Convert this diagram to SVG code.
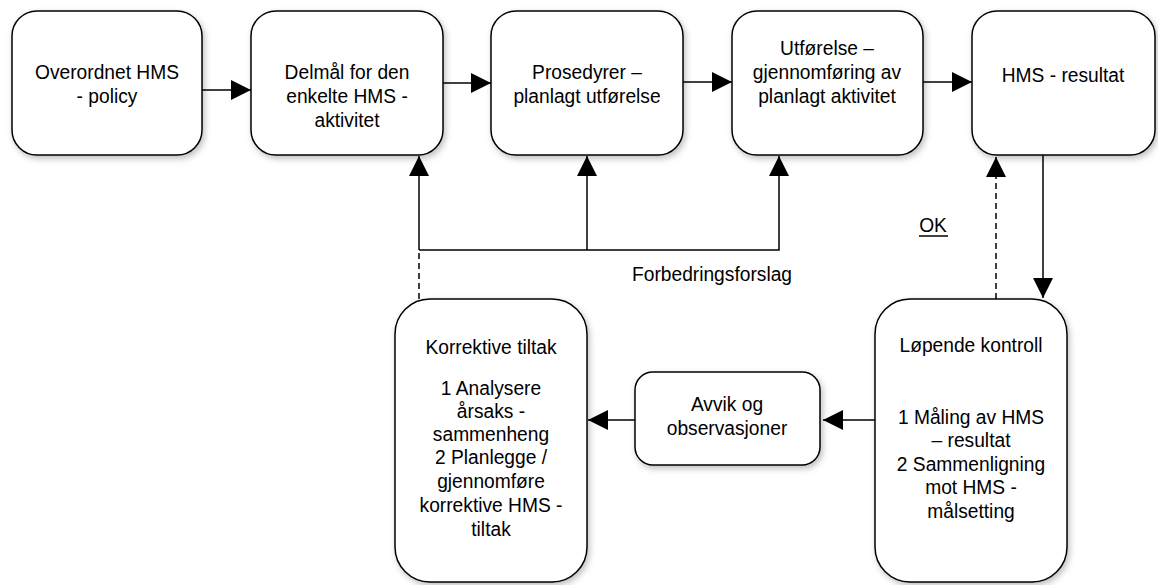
<svg xmlns="http://www.w3.org/2000/svg" width="1158" height="585" viewBox="0 0 1158 585">
  <style>
    .box { fill: #ffffff; stroke: #000000; stroke-width: 1.5; filter: url(#shadow); }
    .lbl { font-family: "Liberation Sans", Arial, sans-serif; font-size: 20px; fill: #000000; text-anchor: middle; }
    .wire { fill: none; stroke: #000000; stroke-width: 1.5; }
    .dash { stroke-dasharray: 6 4; }
  </style>
  <defs>
    <filter id="shadow" x="-10%" y="-10%" width="130%" height="130%">
      <feDropShadow dx="2" dy="3" stdDeviation="3" flood-color="#000000" flood-opacity="0.25"/>
    </filter>
    <marker id="arrow" viewBox="0 0 20 20" refX="20" refY="10" markerWidth="20" markerHeight="20" markerUnits="userSpaceOnUse" orient="auto">
      <path d="M0,0 L20,10 L0,20 Z" fill="#000000"/>
    </marker>
  </defs>

  <rect width="1158" height="585" fill="#ffffff"/>

  <!-- connectors -->
  <g id="connectors">
    <path class="wire" d="M202,90 H251" marker-end="url(#arrow)"/>
    <path class="wire" d="M443,83 H491" marker-end="url(#arrow)"/>
    <path class="wire" d="M683,82 H732" marker-end="url(#arrow)"/>
    <path class="wire" d="M923,82 H972" marker-end="url(#arrow)"/>
    <path class="wire" d="M1043,155 V298" marker-end="url(#arrow)"/>
    <path class="wire dash" d="M996,299 V157" marker-end="url(#arrow)"/>
    <path class="wire" d="M875,420 H823" marker-end="url(#arrow)"/>
    <path class="wire" d="M635,420 H588" marker-end="url(#arrow)"/>
    <!-- improvement feedback loop -->
    <path class="wire dash" d="M419,299 V250"/>
    <path class="wire" d="M419,250 V156" marker-end="url(#arrow)"/>
    <path class="wire" d="M419,250 H779 V156" marker-end="url(#arrow)"/>
    <path class="wire" d="M587,250 V156" marker-end="url(#arrow)"/>
    <g transform="translate(712 0) scale(0.96 1)">
      <text class="lbl" x="0" y="281">Forbedringsforslag</text>
    </g>
    <g transform="translate(933 0) scale(0.96 1)">
      <text class="lbl" x="0" y="232">OK</text>
    </g>
    <line x1="919" y1="236" x2="948" y2="236" stroke="#000000" stroke-width="1.5"/>
  </g>

  <g id="policy">
    <rect class="box" x="12" y="11" width="190" height="144" rx="25"/>
    <g transform="translate(107 0) scale(0.96 1)">
      <text class="lbl" x="0" y="79">Overordnet HMS</text>
      <text class="lbl" x="0" y="103">- policy</text>
    </g>
  </g>

  <g id="delmal">
    <rect class="box" x="251" y="11" width="192" height="144" rx="25"/>
    <g transform="translate(347 0) scale(0.96 1)">
      <text class="lbl" x="0" y="79">Delmål for den</text>
      <text class="lbl" x="0" y="103">enkelte HMS -</text>
      <text class="lbl" x="0" y="127">aktivitet</text>
    </g>
  </g>

  <g id="prosedyrer">
    <rect class="box" x="491" y="11" width="192" height="144" rx="25"/>
    <g transform="translate(587 0) scale(0.96 1)">
      <text class="lbl" x="0" y="79">Prosedyrer –</text>
      <text class="lbl" x="0" y="103">planlagt utførelse</text>
    </g>
  </g>

  <g id="utforelse">
    <rect class="box" x="732" y="11" width="191" height="144" rx="25"/>
    <g transform="translate(827 0) scale(0.96 1)">
      <text class="lbl" x="0" y="55">Utførelse –</text>
      <text class="lbl" x="0" y="79">gjennomføring av</text>
      <text class="lbl" x="0" y="103">planlagt aktivitet</text>
    </g>
  </g>

  <g id="resultat">
    <rect class="box" x="972" y="11" width="183" height="144" rx="25"/>
    <g transform="translate(1063 0) scale(0.96 1)">
      <text class="lbl" x="0" y="82">HMS - resultat</text>
    </g>
  </g>

  <g id="kontroll">
    <rect class="box" x="875" y="299" width="192" height="283" rx="35"/>
    <g transform="translate(971 0) scale(0.96 1)">
      <text class="lbl" x="0" y="352">Løpende kontroll</text>
      <text class="lbl" x="0" y="424">1 Måling av HMS</text>
      <text class="lbl" x="0" y="447">– resultat</text>
      <text class="lbl" x="0" y="471">2 Sammenligning</text>
      <text class="lbl" x="0" y="494">mot HMS -</text>
      <text class="lbl" x="0" y="518">målsetting</text>
    </g>
  </g>

  <g id="avvik">
    <rect class="box" x="635" y="372" width="185" height="93" rx="18"/>
    <g transform="translate(727 0) scale(0.96 1)">
      <text class="lbl" x="0" y="411">Avvik og</text>
      <text class="lbl" x="0" y="435">observasjoner</text>
    </g>
  </g>

  <g id="korrektive">
    <rect class="box" x="395" y="299" width="192" height="283" rx="35"/>
    <g transform="translate(491 0) scale(0.96 1)">
      <text class="lbl" x="0" y="354">Korrektive tiltak</text>
      <text class="lbl" x="0" y="395">1 Analysere</text>
      <text class="lbl" x="0" y="418">årsaks -</text>
      <text class="lbl" x="0" y="441">sammenheng</text>
      <text class="lbl" x="0" y="464">2 Planlegge /</text>
      <text class="lbl" x="0" y="488">gjennomføre</text>
      <text class="lbl" x="0" y="512">korrektive HMS -</text>
      <text class="lbl" x="0" y="536">tiltak</text>
    </g>
  </g>
</svg>
